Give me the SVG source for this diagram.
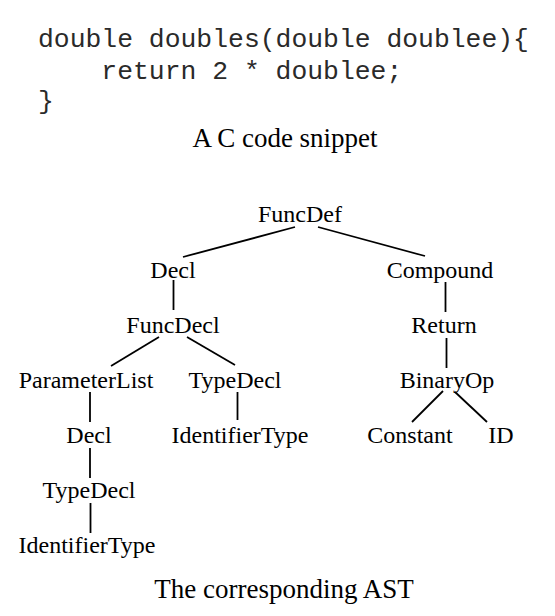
<svg xmlns="http://www.w3.org/2000/svg" width="555" height="616" viewBox="0 0 555 616">
<style>
.code{font-family:"Liberation Mono","Courier New",monospace;font-size:26.4px;fill:#2a2a2a;white-space:pre}
.cap{font-family:"Liberation Serif","Times New Roman",serif;font-size:27px;fill:#000;text-anchor:middle}
.node text{font-family:"Liberation Serif","Times New Roman",serif;font-size:24px;fill:#000;text-anchor:middle}
#edges line{stroke:#000;stroke-width:1.8}
</style>
<rect width="555" height="616" fill="#fff"/>
<g id="code">
<text class="code" x="38" y="47">double doubles(double doublee){</text>
<text class="code" x="38" y="79">    return 2 * doublee;</text>
<text class="code" x="38" y="109">}</text>
</g>
<text class="cap" x="285" y="147">A C code snippet</text>
<g id="edges">
<line x1="295" y1="227" x2="183" y2="257"/>
<line x1="318" y1="227" x2="425" y2="256"/>
<line x1="173.5" y1="280" x2="173.5" y2="310"/>
<line x1="159" y1="337" x2="111" y2="366"/>
<line x1="187" y1="337" x2="235" y2="365"/>
<line x1="445.5" y1="282" x2="445.5" y2="312"/>
<line x1="446.5" y1="338" x2="446.5" y2="368"/>
<line x1="90" y1="392" x2="90" y2="422"/>
<line x1="237.5" y1="392" x2="237.5" y2="420"/>
<line x1="443" y1="391" x2="412" y2="422"/>
<line x1="455" y1="392" x2="487" y2="422"/>
<line x1="90" y1="448" x2="90" y2="478"/>
<line x1="90.5" y1="503" x2="90.5" y2="533"/>
</g>
<g id="n-funcdef" class="node"><text x="300" y="222">FuncDef</text></g>
<g id="n-decl1" class="node"><text x="173" y="278">Decl</text></g>
<g id="n-compound" class="node"><text x="440" y="278">Compound</text></g>
<g id="n-funcdecl" class="node"><text x="173" y="333">FuncDecl</text></g>
<g id="n-return" class="node"><text x="444" y="333">Return</text></g>
<g id="n-paramlist" class="node"><text x="86" y="388">ParameterList</text></g>
<g id="n-typedecl1" class="node"><text x="235" y="388">TypeDecl</text></g>
<g id="n-binaryop" class="node"><text x="447" y="388">BinaryOp</text></g>
<g id="n-decl2" class="node"><text x="89" y="443">Decl</text></g>
<g id="n-idtype1" class="node"><text x="240" y="443">IdentifierType</text></g>
<g id="n-constant" class="node"><text x="410" y="443">Constant</text></g>
<g id="n-id" class="node"><text x="501" y="443">ID</text></g>
<g id="n-typedecl2" class="node"><text x="89" y="498">TypeDecl</text></g>
<g id="n-idtype2" class="node"><text x="87" y="553">IdentifierType</text></g>
<text class="cap" x="284" y="598">The corresponding AST</text>
</svg>
